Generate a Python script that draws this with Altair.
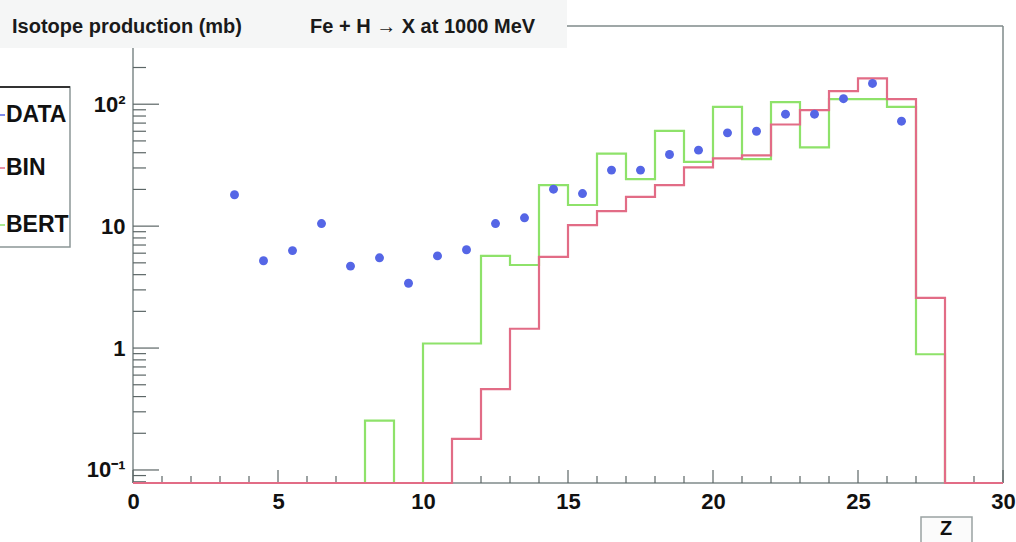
import altair as alt
import pandas as pd

# ---------------- data ----------------
Y_MIN = 0.0782
Y_MAX = 438.0

data_z = [3.5, 4.5, 5.5, 6.5, 7.5, 8.5, 9.5, 10.5, 11.5, 12.5, 13.5, 14.5,
          15.5, 16.5, 17.5, 18.5, 19.5, 20.5, 21.5, 22.5, 23.5, 24.5, 25.5, 26.5]
data_mb = [18.1, 5.2, 6.3, 10.5, 4.7, 5.5, 3.4, 5.7, 6.4, 10.5, 11.7, 20.1,
           18.5, 28.8, 28.8, 38.7, 42.0, 58.2, 60.0, 82.8, 82.8, 111.0, 148.0, 72.6]

bin_edges = list(range(0, 31))
# per-bin contents for bins [0,1) ... [29,30)
bin_mb = [0, 0, 0, 0, 0, 0, 0, 0, 0, 0, 0,
          0.18, 0.46, 1.44, 5.6, 10.2, 13.3, 17.4, 21.7, 30.3, 36.0, 38.0,
          68.2, 89.3, 128.0, 163.0, 110.0, 2.58, 0, 0]
bert_mb = [0, 0, 0, 0, 0, 0, 0, 0, 0.254, 0, 1.09, 1.09, 5.7, 4.8, 21.7, 14.9,
           39.4, 24.3, 60.4, 33.7, 95.0, 35.4, 104.0, 44.2, 110.0, 110.0, 95.0,
           0.89, 0, 0]

x_ticks_major = [0, 5, 10, 15, 20, 25, 30]
x_ticks_minor = [i for i in range(1, 30) if i % 5 != 0]
y_ticks_major = [0.1, 1, 10, 100]
y_ticks_minor = [0.08, 0.09, 0.2, 0.3, 0.4, 0.5, 0.6, 0.7, 0.8, 0.9,
                 2, 3, 4, 5, 6, 7, 8, 9, 20, 30, 40, 50, 60, 70, 80, 90,
                 200, 300, 400]

legend_names = ["DATA", "BIN", "BERT"]
title_left = "Isotope production (mb)"
title_right = "Fe + H \u2192 X at 1000 MeV"
x_title = "Z"

# ---------------- styling ----------------
W, H = 870, 457
FONT = "Liberation Sans"
C_DATA = "#5566e6"
C_BIN = "#e26c86"
C_BERT = "#8ee26a"
C_FRAME = "#7f8a8a"
C_TICK = "#5c6666"
legend_colors = [C_DATA, C_BIN, C_BERT]

def steps(values, name):
    zs = bin_edges
    vs = list(values) + [values[-1]]
    return pd.DataFrame({"z": zs, "v": vs, "series": name})

hist_bin = steps(bin_mb, "BIN")
hist_bert = steps(bert_mb, "BERT")
dots = pd.DataFrame({"z": data_z, "v": data_mb})
one = pd.DataFrame({"a": [0]})

xscale = alt.Scale(domain=[0, 30], nice=False, zero=False)
yscale = alt.Scale(type="log", domain=[Y_MIN, Y_MAX], nice=False)

xaxis = alt.Axis(values=x_ticks_major, title=None, domain=False, ticks=False, grid=False,
                 labelFont=FONT, labelFontWeight="bold", labelFontSize=22,
                 labelColor="#111111", labelPadding=8, labelFlush=False)
yaxis = alt.Axis(values=y_ticks_major, title=None, domain=False, ticks=False, grid=False,
                 labelFont=FONT, labelFontWeight="bold", labelFontSize=22,
                 labelColor="#111111", labelPadding=8,
                 labelExpr="datum.value < 0.5 ? '10\u207b\u00b9' : datum.value < 5 ? '1' : datum.value < 50 ? '10' : '10\u00b2'")

X = lambda f: alt.X(f, type="quantitative", scale=xscale, axis=xaxis)
Y = lambda f: alt.Y(f, type="quantitative", scale=yscale, axis=yaxis)

layers = []

# frame
frame = alt.Chart(one)
layers.append(frame.mark_rule(color=C_FRAME, strokeWidth=1.5).encode(
    x=alt.value(0), y=alt.value(0), y2=alt.value(H)))
layers.append(frame.mark_rule(color=C_FRAME, strokeWidth=1.5).encode(
    x=alt.value(0), x2=alt.value(W), y=alt.value(H)))
layers.append(frame.mark_rule(color=C_FRAME, strokeWidth=1.5).encode(
    x=alt.value(0), x2=alt.value(W), y=alt.value(0)))
layers.append(frame.mark_rule(color=C_FRAME, strokeWidth=1.5).encode(
    x=alt.value(W), y=alt.value(0), y2=alt.value(H)))

# inward ticks
layers.append(alt.Chart(pd.DataFrame({"t": x_ticks_major})).mark_rule(color=C_TICK, strokeWidth=1.2).encode(
    x=X("t"), y=alt.value(H), y2=alt.value(H - 13)))
layers.append(alt.Chart(pd.DataFrame({"t": x_ticks_minor})).mark_rule(color=C_TICK, strokeWidth=1.2).encode(
    x=X("t"), y=alt.value(H), y2=alt.value(H - 7)))
layers.append(alt.Chart(pd.DataFrame({"t": y_ticks_major})).mark_rule(color=C_TICK, strokeWidth=1.2).encode(
    y=Y("t"), x=alt.value(0), x2=alt.value(26)))
layers.append(alt.Chart(pd.DataFrame({"t": y_ticks_minor})).mark_rule(color=C_TICK, strokeWidth=1.2).encode(
    y=Y("t"), x=alt.value(0), x2=alt.value(13)))

# histograms
for df, col in [(hist_bert, C_BERT), (hist_bin, C_BIN)]:
    layers.append(alt.Chart(df).transform_calculate(
        vp=f"max(datum.v, {Y_MIN})"
    ).mark_line(interpolate="step-after", color=col, strokeWidth=2.2).encode(
        x=X("z"), y=Y("vp")))

# data points
layers.append(alt.Chart(dots).mark_circle(size=80, color=C_DATA, opacity=1).encode(
    x=X("z"), y=Y("v")))

# title box
layers.append(frame.mark_rect(color="#f5f6f6").encode(
    x=alt.value(-140), x2=alt.value(434), y=alt.value(-30), y2=alt.value(22)))
layers.append(frame.mark_text(text=title_left, align="left", baseline="middle",
                              font=FONT, fontWeight="bold", fontSize=20, color="#1a1a1a").encode(
    x=alt.value(-121), y=alt.value(1)))
layers.append(frame.mark_text(text=title_right, align="left", baseline="middle",
                              font=FONT, fontWeight="bold", fontSize=20, color="#1a1a1a").encode(
    x=alt.value(177), y=alt.value(1)))

# legend
layers.append(frame.mark_rect(fill="white", stroke="#8c9696", strokeWidth=1.5).encode(
    x=alt.value(-145), x2=alt.value(-63), y=alt.value(61), y2=alt.value(221)))
layers.append(frame.mark_rule(color="#333333", strokeWidth=2).encode(
    x=alt.value(-145), x2=alt.value(-63), y=alt.value(61)))
leg_y = [89, 142, 199]
for name, col, yy in zip(legend_names, legend_colors, leg_y):
    layers.append(frame.mark_rule(color=col, strokeWidth=1.5).encode(
        x=alt.value(-145), x2=alt.value(-128), y=alt.value(yy)))
    layers.append(frame.mark_text(text=name, align="left", baseline="middle",
                                  font=FONT, fontWeight="bold", fontSize=23, color="#111111").encode(
        x=alt.value(-127), y=alt.value(yy)))

# x-axis title box
layers.append(frame.mark_rect(fill="#fbfbfb", stroke="#9aa3a3", strokeWidth=1.5).encode(
    x=alt.value(788), x2=alt.value(839), y=alt.value(491), y2=alt.value(540)))
layers.append(frame.mark_text(text=x_title, align="center", baseline="alphabetic",
                              font=FONT, fontWeight="bold", fontSize=20, color="#111111").encode(
    x=alt.value(813), y=alt.value(509)))

chart = alt.layer(*layers).properties(
    width=W, height=H,
    autosize=alt.AutoSizeParams(type="none"),
    padding={"left": 133, "top": 26, "right": 13, "bottom": 59},
    background="white",
).configure_view(stroke=None)

chart.save("out.html", embed_options={"renderer": "svg", "actions": False})
